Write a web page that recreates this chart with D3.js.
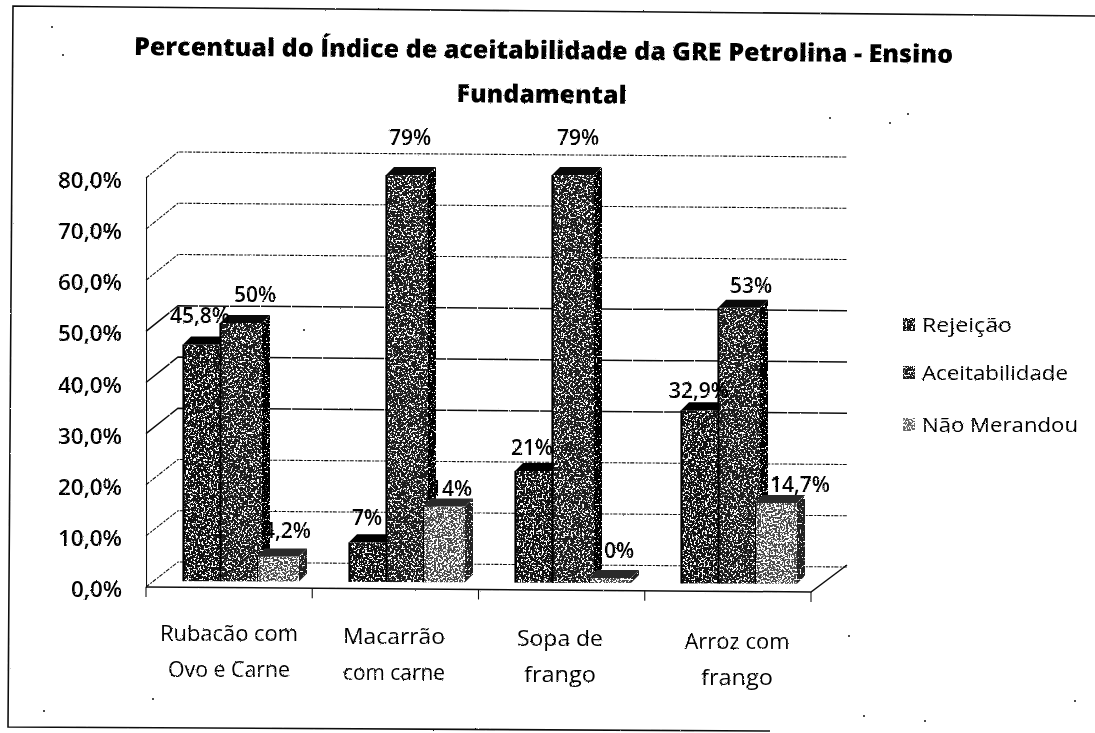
<!DOCTYPE html>
<html><head><meta charset="utf-8">
<script src="https://cdn.jsdelivr.net/npm/d3@7/dist/d3.min.js"></script>
<style>html,body{margin:0;padding:0;background:#fff}svg{display:block}text{font-family:"Open Sans",sans-serif;fill:#000}</style>
</head><body><div id="c"></div>
<script>
const categories=[["Rubacão com","Ovo e Carne"],["Macarrão","com carne"],["Sopa de","frango"],["Arroz com","frango"]];
const seriesNames=["Rejeição","Aceitabilidade","Não Merandou"];
const rejeicao=[45.8,7,21,32.9];
const aceitabilidade=[50,79,79,53];
const naoMerendou=[4.2,14,0,14.7];
const rejeicaoLabels=["45,8%","7%","21%","32,9%"];
const aceitabilidadeLabels=["50%","79%","79%","53%"];
const naoMerendouLabels=["4,2%","14%","0%","14,7%"];
const yTicks=[0,10,20,30,40,50,60,70,80];

const W=1095,H=733;
const svg=d3.select("#c").append("svg").attr("width",W).attr("height",H);
const defs=svg.append("defs");

function speckle(id,t,seed){
  const f=defs.append("filter").attr("id",id).attr("x","-5%").attr("y","-5%").attr("width","110%").attr("height","110%")
    .attr("color-interpolation-filters","sRGB");
  f.append("feTurbulence").attr("type","fractalNoise").attr("baseFrequency",0.52).attr("numOctaves",3).attr("seed",seed).attr("result","n");
  f.append("feColorMatrix").attr("in","n").attr("type","matrix")
    .attr("values",`0 0 0 0 1  0 0 0 0 1  0 0 0 0 1  16 0 0 0 ${-16*t}`).attr("result","w");
  f.append("feComposite").attr("in","w").attr("in2","SourceGraphic").attr("operator","atop");
}
speckle("sp0",0.55,3);speckle("sp1",0.55,7);speckle("sp2",0.49,11);speckle("spSide",0.63,5);

const rf=defs.append("filter").attr("id","rough").attr("filterUnits","userSpaceOnUse").attr("x",0).attr("y",0).attr("width",W).attr("height",H);
rf.append("feTurbulence").attr("type","fractalNoise").attr("baseFrequency",0.6).attr("numOctaves",1).attr("seed",4).attr("result","n");
rf.append("feDisplacementMap").attr("in","SourceGraphic").attr("in2","n").attr("scale",2.4).attr("xChannelSelector","R").attr("yChannelSelector","G");
const lf=defs.append("filter").attr("id","lineRough").attr("filterUnits","userSpaceOnUse").attr("x",0).attr("y",0).attr("width",W).attr("height",H);
lf.append("feTurbulence").attr("type","fractalNoise").attr("baseFrequency",0.6).attr("numOctaves",1).attr("seed",9).attr("result","n");
lf.append("feDisplacementMap").attr("in","SourceGraphic").attr("in2","n").attr("scale",1.8).attr("xChannelSelector","R").attr("yChannelSelector","G");

// frame
const lines=svg.append("g").attr("filter","url(#lineRough)").attr("stroke","#111").attr("fill","none");
lines.append("path").attr("d",`M1095,16L13,6L8,727L770,731`).attr("stroke-width",1.6);

// scales
const yFront=d3.scaleLinear().domain([0,80]).range([587,178]);
const yWall=d3.scaleLinear().domain([0,80]).range([562,152]);
const yBar=d3.scaleLinear().domain([0,80]).range([570,162]);
const xTick=d3.scaleLinear().domain([0,4]).range([146,811]);
const xCat=d3.scaleLinear().domain([0,4]).range([183,847]);
const wallL=178,wallR=847;
const tilt=x=>(x-146)*5/665;

// walls & gridlines
const strongGrid=new Set([30,40,50]);
yTicks.forEach(v=>{
  const y0=yFront(v),y1=yWall(v);
  lines.append("path").attr("d",`M146,${y0}L${wallL},${y1}L${wallR},${y1+5}`)
    .attr("stroke-width",strongGrid.has(v)?1.5:1.1)
    .attr("stroke-dasharray",strongGrid.has(v)?"30 1":"4 1.5 2 1");
});
// axes
const axisY=svg.append("g").attr("transform","translate(146,0)").attr("filter","url(#lineRough)")
  .call(d3.axisLeft(yFront).tickValues(yTicks).tickSize(5).tickFormat(""));
axisY.selectAll("path,line").attr("stroke","#111").attr("stroke-width",1.1);
lines.append("path").attr("d",`M146,587L811,592L847,565`).attr("stroke-width",1.5);
d3.range(5).forEach(i=>{const x=xTick(i);lines.append("line").attr("x1",x).attr("x2",x).attr("y1",587+tilt(x)).attr("y2",597+tilt(x)).attr("stroke-width",1.1);});

// bars
const series=[rejeicao,aceitabilidade,naoMerendou];
const fills=["#111","#1c1c1c","#4a4a4a"],sideF=["#000","#000","#222"],topF=["#000","#0a0a0a","#2a2a2a"];
const barStep=37,barW=42,dep=8;
const bars=svg.append("g");
categories.forEach((c,ci)=>{
  series.forEach((vals,si)=>{
    const x=xCat(ci)+si*barStep,t=yBar(vals[ci]),b=581+tilt(x)*0.6;
    const g=bars.append("g");
    g.append("rect").attr("x",x).attr("y",t+dep).attr("width",barW).attr("height",Math.max(0,b-t-dep)).attr("fill",fills[si]).attr("filter",`url(#sp${si})`);
    g.append("polygon").attr("points",[[x,t+dep],[x+dep,t],[x+barW+dep,t],[x+barW,t+dep]].join(" ")).attr("fill",topF[si]);
    g.append("polygon").attr("points",[[x+barW,t+dep],[x+barW+dep,t],[x+barW+dep,b-dep],[x+barW,b]].join(" ")).attr("fill",sideF[si]).attr("filter","url(#spSide)");
    g.append("line").attr("x1",x+0.5).attr("x2",x+0.5).attr("y1",t+dep).attr("y2",b).attr("stroke","#000").attr("stroke-width",si===2?1:2.2);
  });
});

// text layers
const txt=svg.append("g").attr("filter","url(#rough)");
const title=txt.append("g").attr("transform","rotate(0.55 134 55)");
title.append("text").attr("x",134).attr("y",55).attr("font-size",25).attr("font-weight",800)
  .attr("textLength",819).attr("lengthAdjust","spacingAndGlyphs")
  .text("Percentual do Índice de aceitabilidade da GRE Petrolina - Ensino");
title.append("text").attr("x",457).attr("y",99).attr("font-size",25).attr("font-weight",800)
  .attr("textLength",170).attr("lengthAdjust","spacingAndGlyphs").text("Fundamental");

yTicks.forEach(v=>{
  txt.append("text").attr("x",122).attr("y",yFront(v)+10).attr("text-anchor","end")
    .attr("font-size",21).attr("font-weight",600).attr("textLength",v===0?51:64).attr("lengthAdjust","spacingAndGlyphs")
    .text(d3.format(".1f")(v).replace(".",",")+"%");
});

const catCenters=[229,394,560,737];
const catWidths=[[138,122],[102,102],[86,72],[105,72]];
categories.forEach((c,i)=>{
  const tl=i*2.5;
  [0,1].forEach(l=>{
    const tw=catWidths[i][l];
    txt.append("text").attr("x",catCenters[i]-tw/2).attr("y",(l?677:641)+tl).attr("font-size",21).attr("font-weight",500)
      .attr("textLength",tw).attr("lengthAdjust","spacingAndGlyphs").text(c[l]);
  });
});

// value labels
const labels=[rejeicaoLabels,aceitabilidadeLabels,naoMerendouLabels];
const labelDx=[[17,18,17,18],[35,24,26,33],[30,28,30,45]];
const labelDy=[[-13,-9,-8,-4],[-13,-22,-22,-7],[-11,-3,-12,-3]];
labels.forEach((ls,si)=>ls.forEach((s,ci)=>{
  const x=xCat(ci)+si*barStep+labelDx[si][ci],y=yBar(series[si][ci])+labelDy[si][ci];
  txt.append("text").attr("x",x).attr("y",y).attr("text-anchor","middle").attr("font-size",21).attr("font-weight",600).text(s);
}));

// legend
const legY=[325,373,425],legEnd=[90,146,156];
seriesNames.forEach((n,i)=>{
  svg.append("rect").attr("x",903).attr("y",legY[i]-7).attr("width",12).attr("height",13)
    .attr("fill",["#111","#1c1c1c","#666"][i]).attr("filter",`url(#sp${i})`);
  txt.append("text").attr("x",922).attr("y",legY[i]+7).attr("font-size",20).attr("font-weight",500)
    .attr("textLength",legEnd[i]).attr("lengthAdjust","spacingAndGlyphs").text(n);
});

// scan specks
const specks=[[52,27],[63,55],[153,699],[44,711],[830,118],[890,123],[908,114],[849,636],[864,716],[925,721],[1075,701],[304,330]];
svg.append("g").selectAll("circle").data(specks).join("circle").attr("cx",d=>d[0]).attr("cy",d=>d[1]).attr("r",1).attr("fill","#111");
</script></body></html>
